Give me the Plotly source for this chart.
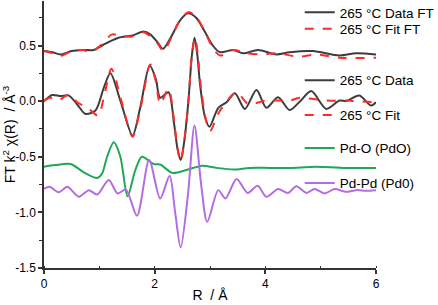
import plotly.graph_objects as go

# ---------------- data ----------------
r_data_ft = [0, 0.15, 0.3, 0.5, 0.7, 0.9, 1.05, 1.2, 1.35, 1.6, 1.8, 1.92, 2.05, 2.15, 2.3, 2.45, 2.6, 2.75, 2.9, 3.05, 3.18, 3.42, 3.6, 3.87, 4.2, 4.44, 4.86, 5.34, 5.64, 6.0]
v_data_ft = [0.45, 0.44, 0.42, 0.45, 0.46, 0.46, 0.50, 0.54, 0.57, 0.59, 0.625, 0.60, 0.53, 0.47, 0.58, 0.72, 0.79, 0.75, 0.63, 0.50, 0.44, 0.46, 0.43, 0.46, 0.42, 0.44, 0.45, 0.41, 0.43, 0.42]

r_fit_ft = [0, 0.15, 0.3, 0.5, 0.7, 0.85, 1.02, 1.23, 1.36, 1.59, 1.8, 1.92, 2.05, 2.16, 2.3, 2.45, 2.61, 2.75, 2.9, 3.05, 3.18, 3.42, 3.66, 3.96, 4.2, 4.62, 4.92, 5.34, 6.0]
v_fit_ft = [0.45, 0.43, 0.405, 0.45, 0.46, 0.44, 0.50, 0.60, 0.59, 0.58, 0.62, 0.585, 0.52, 0.45, 0.57, 0.72, 0.80, 0.76, 0.63, 0.48, 0.41, 0.46, 0.43, 0.42, 0.43, 0.40, 0.42, 0.39, 0.39]

r_data = [0, 0.15, 0.3, 0.45, 0.6, 0.75, 0.93, 1.08, 1.2, 1.38, 1.6, 1.74, 1.91, 2.02, 2.1, 2.25, 2.35, 2.41, 2.47, 2.53, 2.61, 2.67, 2.72, 2.77, 2.82, 2.91, 2.99, 3.15, 3.3, 3.45, 3.63, 3.84, 4.02, 4.23, 4.44, 4.63, 4.83, 5.1, 5.34, 5.46, 5.7, 5.91, 6.0]
v_data = [0.0, 0.055, 0.045, 0.05, -0.03, -0.115, -0.085, 0.12, 0.25, 0.005, -0.31, -0.055, 0.32, 0.2, 0.03, 0.08, -0.2, -0.42, -0.53, -0.38, 0.0, 0.4, 0.57, 0.42, 0.15, -0.145, -0.23, -0.06, -0.01, 0.07, -0.07, 0.10, -0.06, 0.035, -0.08, 0.0, 0.09, -0.07, 0.005, 0.0, 0.05, -0.04, -0.01]

r_fit = [0, 0.1, 0.27, 0.45, 0.6, 0.81, 0.98, 1.08, 1.22, 1.4, 1.6, 1.75, 1.92, 2.02, 2.1, 2.25, 2.35, 2.41, 2.47, 2.53, 2.61, 2.67, 2.73, 2.78, 2.83, 2.92, 3.0, 3.18, 3.48, 3.69, 4.02, 4.44, 4.62, 5.1, 5.46, 6.0]
v_fit = [0.0, 0.03, 0.01, 0.06, -0.01, -0.07, -0.13, 0.03, 0.29, 0.0, -0.32, -0.05, 0.33, 0.18, -0.025, 0.11, -0.17, -0.42, -0.54, -0.38, 0.0, 0.4, 0.57, 0.42, 0.15, -0.15, -0.27, -0.085, 0.08, -0.025, 0.005, 0.005, 0.03, 0.005, 0.005, -0.01]

r_pdo = [0, 0.2, 0.48, 0.72, 0.96, 1.05, 1.14, 1.26, 1.38, 1.51, 1.65, 1.77, 1.98, 2.1, 2.32, 2.6, 2.86, 3.12, 3.42, 3.72, 4.08, 4.44, 4.92, 5.4, 6.0]
v_pdo = [-0.59, -0.575, -0.565, -0.64, -0.69, -0.65, -0.50, -0.37, -0.50, -0.855, -0.62, -0.50, -0.565, -0.57, -0.645, -0.615, -0.58, -0.60, -0.615, -0.60, -0.60, -0.60, -0.59, -0.60, -0.60]

r_pdpd = [0, 0.1, 0.27, 0.42, 0.63, 0.81, 0.96, 1.17, 1.33, 1.48, 1.68, 1.9, 2.1, 2.27, 2.37, 2.47, 2.6, 2.72, 2.84, 2.95, 3.15, 3.28, 3.48, 3.68, 3.86, 4.02, 4.23, 4.41, 4.56, 4.74, 4.89, 5.07, 5.25, 5.46, 5.64, 5.82, 6.0]
v_pdpd = [-0.79, -0.77, -0.82, -0.77, -0.86, -0.80, -0.84, -0.71, -0.83, -0.795, -1.03, -0.53, -0.875, -0.67, -1.0, -1.315, -0.85, -0.22, -0.75, -1.085, -0.80, -0.875, -0.70, -0.825, -0.76, -0.86, -0.79, -0.825, -0.765, -0.825, -0.79, -0.83, -0.79, -0.815, -0.80, -0.805, -0.80]

names = ["265 °C Data FT", "265 °C Fit FT", "265 °C Data", "265 °C Fit", "Pd-O (PdO)", "Pd-Pd (Pd0)"]
xticks = [0, 2, 4, 6]
yticks = [-1.5, -1.0, -0.5, 0.0, 0.5]

# ---------------- styles ----------------
BLACK = "#3d3d3d"
RED = "#ff2a2a"
GREEN = "#1fa855"
PURPLE = "#b36ce3"

series = [
    (r_data_ft, v_data_ft, BLACK, "solid", "legend"),
    (r_fit_ft, v_fit_ft, RED, "dash", "legend2"),
    (r_data, v_data, BLACK, "solid", "legend3"),
    (r_fit, v_fit, RED, "dash", "legend4"),
    (r_pdo, v_pdo, GREEN, "solid", "legend5"),
    (r_pdpd, v_pdpd, PURPLE, "solid", "legend6"),
]

fig = go.Figure()
for (x, y, c, d, lg), nm in zip(series, names):
    fig.add_trace(go.Scatter(
        x=x, y=y, mode="lines", name=nm, legend=lg,
        line=dict(color=c, width=2, dash=d, shape="spline", smoothing=0.8),
    ))

ML, MR, MT, MB = 43.5, 61.5, 0.5, 37
W, H = 438, 305
PW = W - ML - MR
PH = H - MT - MB

# legend positions (pixel centres), one legend per entry
leg_y_px = [12, 28.5, 80, 115, 148, 183]
leg_left_px = 300
common = dict(x=(leg_left_px - ML) / PW, xanchor="left", yanchor="middle", bgcolor="rgba(0,0,0,0)",
              font=dict(family="Liberation Sans, Arial, sans-serif", size=13.5, color="#000"),
              borderwidth=0, itemwidth=30, tracegroupgap=0)
legends = {}
keys = ["legend", "legend2", "legend3", "legend4", "legend5", "legend6"]
for k, py in zip(keys, leg_y_px):
    legends[k] = dict(y=(H - MB - py) / PH, **common)

fig.update_layout(
    width=W, height=H,
    margin=dict(l=ML, r=MR, t=MT, b=MB, autoexpand=False),
    paper_bgcolor="white", plot_bgcolor="white",
    font=dict(family="Liberation Sans, Arial, sans-serif", size=12, color="#000"),
    showlegend=True,
    **legends,
    xaxis=dict(
        range=[0, 6], tickvals=xticks, ticktext=[str(v) for v in xticks],
        showline=True, linecolor="#333", linewidth=1.5, mirror=False,
        ticks="outside", ticklen=4, tickwidth=1.5, tickcolor="#333",
        minor=dict(dtick=1, ticks="inside", ticklen=2.5, tickwidth=1.2, tickcolor="#333", showgrid=False),
        showgrid=False, zeroline=False, automargin=False,
        title=dict(text="R  / Å", font=dict(size=14), standoff=0),
        tickfont=dict(size=12),
    ),
    yaxis=dict(
        range=[-1.5, 0.9], tickvals=yticks, ticktext=[f"{v:.1f}" for v in yticks],
        showline=True, linecolor="#333", linewidth=1.5, mirror=False,
        ticks="outside", ticklen=4, tickwidth=1.5, tickcolor="#333",
        minor=dict(dtick=0.25, tick0=0, ticks="outside", ticklen=3, tickwidth=1.2, tickcolor="#333", showgrid=False),
        showgrid=False, zeroline=False, automargin=False,
        title=dict(text="FT k<sup>2</sup> χ(R)  / Å<sup>-3</sup>", font=dict(size=14), standoff=2),
        tickfont=dict(size=12),
    ),
)

fig.write_html("out.html", config={"displayModeBar": False},
               post_script="document.body.style.margin='0px';")
